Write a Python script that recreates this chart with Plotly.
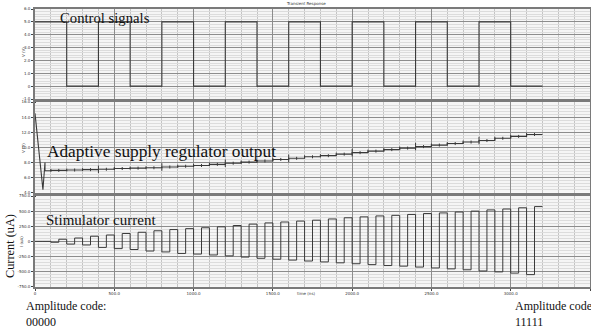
import plotly.graph_objects as go
from plotly.subplots import make_subplots

# ---------------- data ----------------
ctrl_times = [0, 200, 400, 600, 800, 1000, 1200, 1400, 1600, 1800, 2000, 2200, 2400, 2600, 2800, 3000, 3200]
ctrl_levels = [5, 0, 5, 0, 5, 0, 5, 0, 5, 0, 5, 0, 5, 0, 5, 0, 0]

# adaptive supply regulator output, one level per amplitude code (00000..11111)
supply_levels = [6.9, 6.95, 7.0, 7.05, 7.1, 7.2, 7.25, 7.3, 7.4, 7.5, 7.6, 7.75, 7.9, 8.05, 8.2, 8.4,
                 8.55, 8.75, 8.9, 9.1, 9.3, 9.5, 9.7, 9.9, 10.1, 10.3, 10.5, 10.7, 10.9, 11.2, 11.45, 11.7]
startup_t = [0, 50, 63, 63]
startup_v = [14.5, 4.4, 8.0, 6.9]

# stimulator current, cathodic / anodic phase per amplitude code
stim_neg = [0, -15, -45, -60, -100, -120, -135, -160, -175, -200, -210, -225, -240, -260, -280, -295,
            -310, -325, -340, -355, -370, -385, -400, -410, -425, -440, -455, -470, -490, -505, -525, -550]
stim_pos = [0, 35, 55, 85, 105, 130, 150, 175, 195, 210, 225, 240, 262, 285, 305, 320,
            335, 350, 370, 390, 405, 420, 430, 445, 460, 470, 485, 500, 520, 535, 555, 575]

code_period = 100
x_ticks = [0, 500, 1000, 1500, 2000, 2500, 3000, 3500]
x_ticklabels = ["0", "500.0", "1000.0", "1500.0", "2000.0", "2500.0", "3000.0", "3500.0"]
top_ticks = [-1, 0, 1, 2, 3, 4, 5, 6]
mid_ticks = [4, 6, 8, 10, 12, 14, 16]
bot_ticks = [-750, -500, -250, 0, 250, 500, 750]

# ---------------- build traces ----------------
LINE = "#3a3a3a"
W, H = 591, 333

fig = make_subplots(rows=3, cols=1, shared_xaxes=False)

fig.add_trace(go.Scatter(x=ctrl_times, y=ctrl_levels, mode="lines", line_shape="hv",
                         line=dict(color=LINE, width=1.1), showlegend=False), row=1, col=1)

# supply staircase
sx, sy = list(startup_t), list(startup_v)
for k, lv in enumerate(supply_levels):
    t0 = max(k * code_period, startup_t[-1])
    sx += [t0, (k + 1) * code_period]
    sy += [lv, lv]
fig.add_trace(go.Scatter(x=sx, y=sy, mode="lines", line=dict(color=LINE, width=1.1),
                         showlegend=False), row=2, col=1)
# switching glitches at every phase change
gx, gy = [], []
for k, lv in enumerate(supply_levels):
    for half in (0, 1):
        t = k * code_period + half * code_period / 2
        if t < 63:
            continue
        h = 0.5 if (t % 400 == 0) else 0.2
        gx += [t, t, None]
        gy += [lv - h, lv + h, None]
fig.add_trace(go.Scatter(x=gx, y=gy, mode="lines", line=dict(color=LINE, width=1),
                         showlegend=False), row=2, col=1)

# stimulator current biphasic pulses
cx, cy = [], []
for k in range(len(stim_pos)):
    cx += [k * code_period, k * code_period + code_period / 2]
    cy += [stim_neg[k], stim_pos[k]]
cx.append(len(stim_pos) * code_period)
cy.append(stim_pos[-1])
fig.add_trace(go.Scatter(x=cx, y=cy, mode="lines", line_shape="hv",
                         line=dict(color=LINE, width=1), showlegend=False), row=3, col=1)

# ---------------- axes ----------------
x0, x1 = 35 / W, 590 / W
doms = [(9, 99), (102, 192.7), (196, 286.7)]

tickfont = dict(family="DejaVu Sans", size=4, color="#333")
for i, (ptop, pbot) in enumerate(doms, start=1):
    fig.update_layout(**{
        f"xaxis{'' if i == 1 else i}": dict(
            domain=[x0, x1], range=[0, 3500], tickvals=x_ticks, ticktext=x_ticklabels,
            showticklabels=(i == 3), tickfont=tickfont, ticks="outside", ticklen=2,
            automargin=False,
            showgrid=True, gridcolor="#8c8c8c", gridwidth=1.3,
            minor=dict(dtick=100, showgrid=True, gridcolor="#c4c4c4", gridwidth=1),
            showline=True, mirror=True, linecolor="#7a7a7a", linewidth=1.6, zeroline=False),
        f"yaxis{'' if i == 1 else i}": dict(
            domain=[1 - pbot / H, 1 - ptop / H], tickfont=tickfont, ticks="outside", ticklen=2,
            automargin=False,
            showgrid=True, gridcolor="#8c8c8c", gridwidth=1,
            showline=True, mirror=True, linecolor="#7a7a7a", linewidth=1.6, zeroline=False),
    })

fig.update_yaxes(range=[-1, 6], tickvals=top_ticks,
                 ticktext=["-1.0", "0", "1.0", "2.0", "3.0", "4.0", "5.0", "6.0"],
                 minor=dict(dtick=0.2, showgrid=True, gridcolor="#dcdcdc", gridwidth=1), row=1, col=1)
fig.update_yaxes(range=[4, 16], tickvals=mid_ticks,
                 ticktext=["4.0", "6.0", "8.0", "10.0", "12.0", "14.0", "16.0"],
                 minor=dict(dtick=0.4, showgrid=True, gridcolor="#dcdcdc", gridwidth=1), row=2, col=1)
fig.update_yaxes(range=[-750, 750], tickvals=bot_ticks,
                 ticktext=["-750.0", "-500.0", "-250.0", "0", "250.0", "500.0", "750.0"],
                 minor=dict(dtick=50, showgrid=True, gridcolor="#dcdcdc", gridwidth=1), row=3, col=1)

# ---------------- text ----------------
serif = "Liberation Serif"
ann = [
    dict(text="Control signals", x=58 / W, y=1 - 18 / H, size=14.7),
    dict(text="Adaptive supply regulator output", x=45 / W, y=1 - 152 / H, size=17.3),
    dict(text="Stimulator current", x=44 / W, y=1 - 220 / H, size=15),
    dict(text="Amplitude code:", x=24 / W, y=1 - 306 / H, size=12),
    dict(text="00000", x=24 / W, y=1 - 322 / H, size=12),
    dict(text="Amplitude code", x=513 / W, y=1 - 306 / H, size=12),
    dict(text="11111", x=513 / W, y=1 - 322 / H, size=12),
]
for a in ann:
    fig.add_annotation(text=a["text"], x=a["x"], y=a["y"], xref="paper", yref="paper",
                       xanchor="left", yanchor="middle", showarrow=False,
                       font=dict(family=serif, size=a["size"], color="#111"))
fig.add_annotation(text="Current (uA)", x=10 / W, y=1 - 246 / H, xref="paper", yref="paper",
                   textangle=-90, showarrow=False, xanchor="center", yanchor="middle",
                   font=dict(family=serif, size=12.3, color="#111"))
# tiny simulator labels
for txt, xp, yp, ang in [("Transient Response", 306, 3, 0), ("time (ns)", 306, 293, 0),
                         ("V (V)", 23, 52, -90), ("V (V)", 23, 148, -90), ("I (uA)", 21, 242, -90)]:
    fig.add_annotation(text=txt, x=xp / W, y=1 - yp / H, xref="paper", yref="paper",
                       textangle=ang, showarrow=False, xanchor="center", yanchor="middle",
                       font=dict(family="DejaVu Sans", size=4, color="#333"))

fig.update_layout(width=W, height=H, margin=dict(l=0, r=0, t=0, b=0, autoexpand=False),
                  paper_bgcolor="white", plot_bgcolor="#f5f5f5", showlegend=False)

fig.write_html("out.html", config={"displayModeBar": False},
               post_script="document.body.style.margin='0px';")
